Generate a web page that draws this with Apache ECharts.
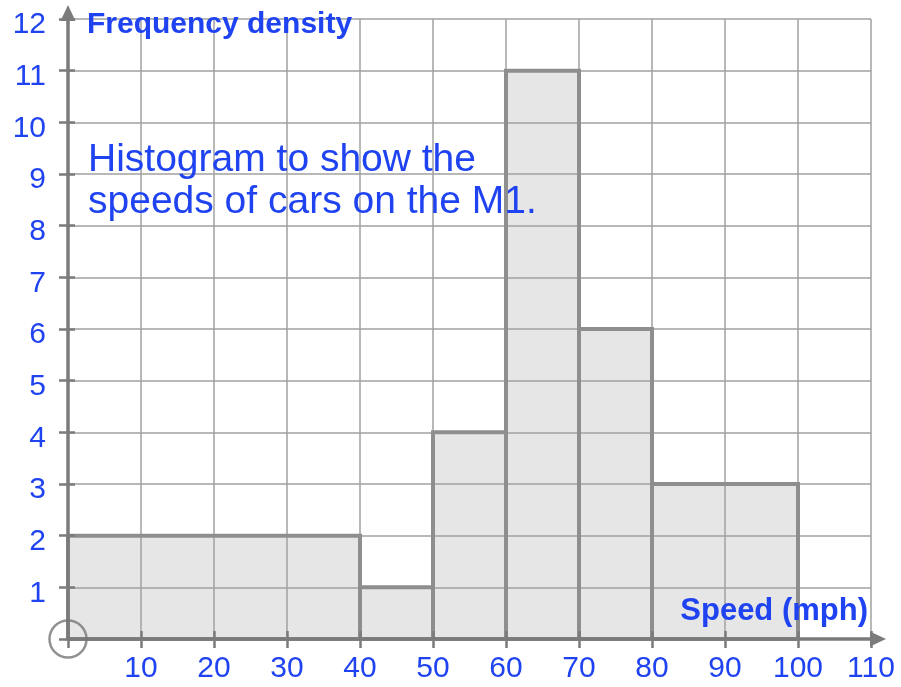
<!DOCTYPE html>
<html>
<head>
<meta charset="utf-8">
<script src="https://cdn.jsdelivr.net/npm/echarts@6/dist/echarts.min.js"></script>
<style>
html,body{margin:0;padding:0;background:#fff;}
#chart{width:901px;height:687px;}
</style>
</head>
<body>
<div id="chart"></div>
<script>
// ---- data ----
const binStarts = [0, 40, 50, 60, 70, 80];
const binEnds   = [40, 50, 60, 70, 80, 100];
const densities = [2, 1, 4, 11, 6, 3];
const xMin = 0, xMax = 110, xInterval = 10;
const yMin = 0, yMax = 12, yInterval = 1;
const yAxisTitle = 'Frequency density';
const xAxisTitle = 'Speed (mph)';
const chartNote = 'Histogram to show the\nspeeds of cars on the M1.';

const BLUE = '#1f43f0';
const AXIS = '#7b7b7b';
const GRIDC = '#a0a0a0';
const FONT = '"Liberation Sans", Arial, sans-serif';

const bins = binStarts.map((s, i) => [s, binEnds[i], densities[i]]);

function rectFor(api) {
  const s = api.value(0), e = api.value(1), d = api.value(2);
  const p0 = api.coord([s, d]);
  const p1 = api.coord([e, 0]);
  return {x: p0[0], y: p0[1], width: p1[0] - p0[0], height: p1[1] - p0[1]};
}

const chart = echarts.init(document.getElementById('chart'), null, {renderer: 'canvas'});
chart.setOption({
  animation: false,
  backgroundColor: '#fff',
  grid: [
    {left: 68, right: 30, top: 19, bottom: 48, show: false},
    {left: 68, right: 23, top: 13, bottom: 48, show: false}
  ],
  xAxis: [
    {
      gridIndex: 0, type: 'value', min: xMin, max: xMax, interval: xInterval, z: 2,
      axisLine: {show: false},
      axisTick: {show: true, inside: false, length: 9, lineStyle: {color: AXIS, width: 2.5}},
      axisLabel: {
        show: true, margin: 15, color: BLUE, fontSize: 30, fontFamily: FONT,
        formatter: v => (v === 0 ? '' : String(v))
      },
      splitLine: {show: true, lineStyle: {color: GRIDC, width: 1.5}}
    },
    {
      gridIndex: 0, type: 'value', min: xMin, max: xMax, interval: xInterval, z: 4, position: 'bottom',
      axisLine: {show: false},
      axisTick: {show: true, inside: true, length: 8, lineStyle: {color: AXIS, width: 2.5}},
      axisLabel: {show: false},
      splitLine: {show: false}
    },
    {
      gridIndex: 1, type: 'value', min: 0, max: 1, z: 5,
      axisLine: {show: true, symbol: ['none', 'triangle'], symbolSize: [15, 16],
        lineStyle: {color: AXIS, width: 3.5}},
      axisTick: {show: false}, axisLabel: {show: false}, splitLine: {show: false}
    }
  ],
  yAxis: [
    {
      gridIndex: 0, type: 'value', min: yMin, max: yMax, interval: yInterval, z: 2,
      axisLine: {show: false},
      axisTick: {show: true, inside: false, length: 9, lineStyle: {color: AXIS, width: 2.5}},
      axisLabel: {
        show: true, margin: 22, color: BLUE, fontSize: 30, fontFamily: FONT,
        verticalAlign: 'top', lineHeight: 12,
        formatter: v => (v === 0 ? '' : String(v))
      },
      splitLine: {show: true, lineStyle: {color: GRIDC, width: 1.5}}
    },
    {
      gridIndex: 0, type: 'value', min: yMin, max: yMax, interval: yInterval, z: 4,
      position: 'left', offset: 0,
      axisLine: {show: false},
      axisTick: {show: true, inside: true, length: 7, lineStyle: {color: AXIS, width: 2.5}},
      axisLabel: {show: false},
      splitLine: {show: false}
    },
    {
      gridIndex: 1, type: 'value', min: 0, max: 1, z: 5,
      axisLine: {show: true, symbol: ['none', 'triangle'], symbolSize: [15, 16],
        lineStyle: {color: AXIS, width: 3.5}},
      axisTick: {show: false}, axisLabel: {show: false}, splitLine: {show: false}
    }
  ],
  series: [
    {
      type: 'custom', xAxisIndex: 0, yAxisIndex: 0, z: 1,
      data: bins,
      encode: {x: [0, 1], y: 2},
      renderItem: (params, api) => ({type: 'rect', shape: rectFor(api), style: {fill: '#e6e6e6'}})
    },
    {
      type: 'custom', xAxisIndex: 0, yAxisIndex: 0, z: 3,
      data: bins,
      encode: {x: [0, 1], y: 2},
      renderItem: (params, api) => ({type: 'rect', shape: rectFor(api),
        style: {fill: 'none', stroke: '#8e8e8e', lineWidth: 4}})
    },
    {
      type: 'scatter', xAxisIndex: 0, yAxisIndex: 0, z: 6, clip: false,
      data: [[0, 0]],
      symbol: 'circle', symbolSize: 37,
      itemStyle: {color: 'rgba(0,0,0,0)', borderColor: '#777', borderWidth: 2.5},
      silent: true
    }
  ],
  graphic: [
    {type: 'text', z: 10, left: 87, top: 10,
      style: {text: yAxisTitle, fill: BLUE, font: 'bold 30px ' + FONT}},
    {type: 'text', z: 10, right: 33, top: 596,
      style: {text: xAxisTitle, fill: BLUE, font: 'bold 31px ' + FONT}},
    {type: 'text', z: 10, left: 88, top: 139,
      style: {text: chartNote, fill: BLUE, font: '39px ' + FONT, lineHeight: 42}}
  ]
});
</script>
</body>
</html>
